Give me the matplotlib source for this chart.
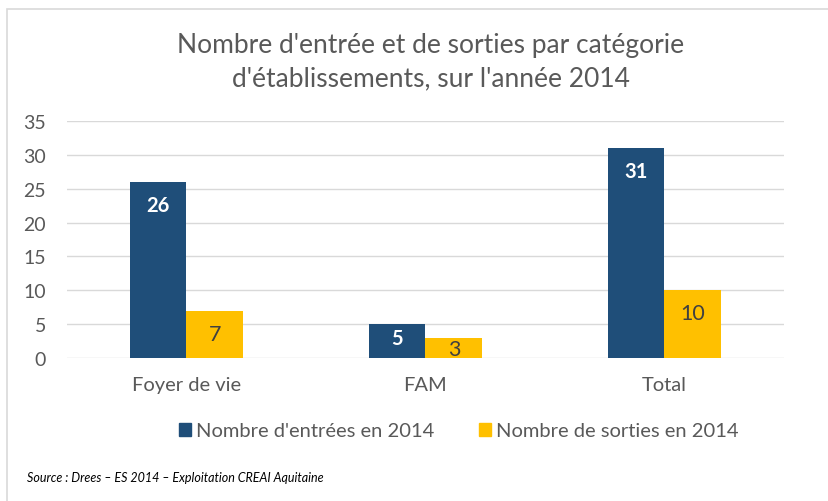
import numpy as np
import matplotlib.pyplot as plt
from matplotlib.patches import Rectangle, Patch

categories = ['Foyer de vie', 'FAM', 'Total']
entrees = [26, 5, 31]
sorties = [7, 3, 10]
yticks = [0, 5, 10, 15, 20, 25, 30, 35]

title_lines = ["Nombre d'entrée et de sorties par catégorie",
               "d'établissements, sur l'année 2014"]
label_entrees = "Nombre d'entrées en 2014"
label_sorties = "Nombre de sorties en 2014"
source = "Source : Drees – ES 2014 – Exploitation CREAI Aquitaine"

blue = '#1F4E79'
yellow = '#FFC000'
gray = '#595959'

plt.rcParams['font.family'] = ['Lato', 'DejaVu Sans']

W, H = 829, 502
fig = plt.figure(figsize=(W / 100, H / 100), dpi=100)

# chart frame (only top and left visible in the crop)
fig.patches.append(Rectangle((7 / W, -0.1), 1.2, 1 - 10 / H + 0.1,
                             transform=fig.transFigure, fill=False,
                             edgecolor='#D9D9D9', linewidth=1.2))

ax = fig.add_axes([67 / W, 1 - 359 / H, (784 - 67) / W, (359 - 122) / H])
px_per_unit = (359 - 122) / 35

x = np.arange(len(categories))
w = 0.238
b1 = ax.bar(x - w / 2, entrees, w, color=blue, label=label_entrees)
b2 = ax.bar(x + w / 2, sorties, w, color=yellow, label=label_sorties)


def label_offset(v):
    # inside-end labels, pulled toward the middle on short bars
    h = v * px_per_unit
    if h > 40:
        off = 23
    elif h > 25:
        off = h * 0.4
    else:
        off = h - 9
    return off / px_per_unit


for rect, v in zip(b1, entrees):
    ax.text(rect.get_x() + rect.get_width() / 2, v - label_offset(v), str(v),
            ha='center', va='center', color='white', fontsize=14.5, fontweight='bold')
for rect, v in zip(b2, sorties):
    ax.text(rect.get_x() + rect.get_width() / 2, v - label_offset(v), str(v),
            ha='center', va='center', color='#404040', fontsize=15.5)

ax.set_xlim(-0.5, 2.5)
ax.set_ylim(0, 35)
ax.set_yticks(yticks)
ax.set_xticks(x)
ax.set_xticklabels(categories)
ax.tick_params(axis='y', length=0, labelsize=14, labelcolor=gray, pad=15)
ax.tick_params(axis='x', length=0, labelsize=14.5, labelcolor=gray, pad=13)
ax.grid(axis='y', color='#D9D9D9', linewidth=1)
ax.set_axisbelow(True)
for s in ax.spines.values():
    s.set_visible(False)

fig.text(431 / W, 1 - 46 / H, title_lines[0], ha='center', va='center',
         fontsize=19, color=gray)
fig.text(431 / W, 1 - 79 / H, title_lines[1], ha='center', va='center',
         fontsize=19, color=gray)

handles = [Patch(color=blue), Patch(color=yellow)]
fig.legend(handles, [label_entrees, label_sorties], loc='center',
           bbox_to_anchor=(459 / W, 1 - 432 / H), ncol=2, frameon=False,
           fontsize=14.5, labelcolor=gray, handlelength=0.6, handleheight=0.6,
           handletextpad=0.25, columnspacing=2.2)

fig.text(27 / W, 1 - 478 / H, source, ha='left', va='center', fontsize=9,
         style='italic', color='black')

fig.savefig('out.png', dpi=100)
